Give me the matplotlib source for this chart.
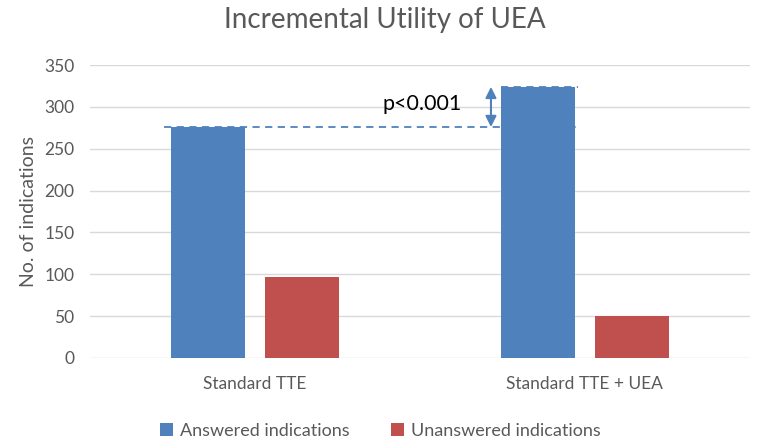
# -*- coding: utf-8 -*-
# Incremental utility of UEA - bar chart with significance marker

import numpy as np
import matplotlib.pyplot as plt

plt.rcParams['font.family'] = ['Lato', 'DejaVu Sans']

# data
categories = ["Standard TTE", "Standard TTE + UEA"]
answered = [276, 324]
unanswered = [97, 50]
yticks = [0, 50, 100, 150, 200, 250, 300, 350]

blue = "#4F81BD"
red = "#C0504D"
grey = "#595959"

fig = plt.figure(figsize=(7.62, 4.43), dpi=100)
ax = fig.add_axes([0.118, 0.192, 0.866, 0.661])

x = np.arange(len(categories))
w = 0.225
ax.bar(x - 0.142, answered, w, color=blue, label="Answered indications", zorder=3)
ax.bar(x + 0.142, unanswered, w, color=red, label="Unanswered indications", zorder=3)

ax.set_xlim(-0.5, 1.5)
ax.set_ylim(0, 350)
ax.set_yticks(yticks)
ax.set_xticks(x)
ax.set_xticklabels(categories)
ax.grid(axis='y', color='#d9d9d9', linewidth=1, zorder=0)
for s in ax.spines.values():
    s.set_visible(False)
ax.tick_params(length=0, colors=grey, labelsize=12.5)
ax.tick_params(axis='x', pad=13)
ax.tick_params(axis='y', pad=11)
ax.set_ylabel("No. of indications", color=grey, fontsize=14, labelpad=5)
fig.suptitle("Incremental Utility of UEA", color=grey, fontsize=20, x=0.505, y=0.985)

# significance marker
x0 = -0.142 - w / 2 - 0.02
x1 = 1 - 0.142 + w / 2 + 0.01
ax.hlines(answered[0], x0, x1, colors=blue, linestyles=(0, (4, 3)), linewidth=1.3, zorder=4)
ax.hlines(answered[1], 1 - 0.142 - w / 2, x1, colors=blue, linestyles=(0, (4, 3)), linewidth=1.3, zorder=4)
xa = 1 - 0.142 - w / 2 - 0.03
ax.annotate("", xy=(xa, answered[1]), xytext=(xa, answered[0]),
            arrowprops=dict(arrowstyle='<|-|>', color=blue, lw=1.5,
                            mutation_scale=16, shrinkA=0, shrinkB=0))
ax.text(xa - 0.09, (answered[0] + answered[1]) / 2 + 3, "p<0.001",
        ha='right', va='center', fontsize=15.5, color='black')

ax.legend(loc='upper center', bbox_to_anchor=(0.44, -0.165), ncol=2, frameon=False,
          fontsize=13, labelcolor=grey, handlelength=0.7, handleheight=0.7,
          handletextpad=0.4, columnspacing=2.3)

plt.savefig('out.png', dpi=100)
